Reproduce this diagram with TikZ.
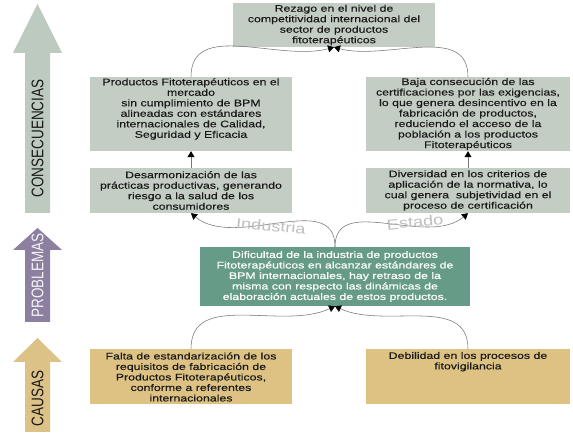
\documentclass[tikz,border=0pt]{standalone}
\usepackage{fontspec}
\usepackage{graphicx}
\usetikzlibrary{arrows.meta}
\setmainfont{Liberation Sans}
\newfontfamily\boxfont[FakeStretch=1.3,FakeBold=0.35]{Liberation Sans}
\newfontfamily\lblfont[FakeStretch=1.25]{Liberation Sans}
\definecolor{consbox}{HTML}{C4CDC4}
\definecolor{consarrow}{HTML}{BDCABF}
\definecolor{probbox}{HTML}{669B87}
\definecolor{probarrow}{HTML}{8C7F9F}
\definecolor{causebox}{HTML}{DDC283}
\definecolor{causearrow}{HTML}{DDC287}
\definecolor{textcol}{HTML}{1A1A1A}
\definecolor{linecol}{HTML}{777777}
\tikzset{
  box/.style={draw=none, inner sep=0pt},
  txt/.style={align=center, font=\boxfont\fontsize{9.5}{10.5}\selectfont, text=textcol, inner sep=0pt},
  conn/.style={draw=linecol, line width=0.55pt, -{Triangle[width=7pt,length=6pt,color=black]}},
  sidelbl/.style={rotate=90, inner sep=0pt, font=\fontsize{13.5}{14}\selectfont},
  branchlbl/.style={inner sep=0pt, text=gray!50, font=\lblfont\fontsize{14.5}{15}\selectfont}
}
\begin{document}
\begin{tikzpicture}[x=1pt,y=1pt]
\useasboundingbox (0,0) rectangle (573,433);
\fill[white] (0,0) rectangle (573,433);

% side arrows
\fill[consarrow] (25,220) -- (25,380) -- (13,380) -- (37.5,429) -- (62,380) -- (50,380) -- (50,220) -- cycle;
\fill[probarrow] (25,111) -- (25,183) -- (13,183) -- (37.5,205) -- (62,183) -- (50,183) -- (50,111) -- cycle;
\fill[causearrow] (25,1) -- (25,71) -- (13,71) -- (37.5,95) -- (62,71) -- (50,71) -- (50,1) -- cycle;
\node[sidelbl, text=textcol] (lcons) at (37.5,294.5) {\scalebox{1}[1.25]{CONSECUENCIAS}};
\node[sidelbl, text=white!92!probarrow] (lprob) at (37.5,157.5) {\scalebox{1}[1.25]{PROBLEMAS}};
\node[sidelbl, text=textcol] (lcaus) at (37.5,34.5) {\scalebox{1}[1.25]{CAUSAS}};

% boxes
\node[box, fill=consbox, minimum width=202pt, minimum height=44pt] (top) at (334,408) {};
\node[box, fill=consbox, minimum width=202pt, minimum height=74pt] (c1L) at (191,319) {};
\node[box, fill=consbox, minimum width=204pt, minimum height=74pt] (c1R) at (468,319) {};
\node[box, fill=consbox, minimum width=202pt, minimum height=45pt] (c2L) at (191,242.5) {};
\node[box, fill=consbox, minimum width=204pt, minimum height=45pt] (c2R) at (468,242.5) {};
\node[box, fill=probbox, minimum width=270pt, minimum height=59pt] (prob) at (335,156.5) {};
\node[box, fill=causebox, minimum width=202pt, minimum height=55pt] (causeL) at (191,56.5) {};
\node[box, fill=causebox, minimum width=204pt, minimum height=55pt] (causeR) at (468,56.5) {};

% texts
\node[txt] (ttop) at (top.center) {Rezago en el nivel de\\competitividad internacional del\\sector de productos\\fitoterapéuticos};
\node[txt] (tc1L) at ([yshift=5pt]c1L.center) {Productos Fitoterapéuticos en el\\mercado\\sin cumplimiento de BPM\\alineadas con estándares\\internacionales de Calidad,\\Seguridad y Eficacia};
\node[txt] (tc1R) at (c1R.center) {Baja consecución de las\\certificaciones por las exigencias,\\lo que genera desincentivo en la\\fabricación de productos,\\reduciendo el acceso de la\\población a los productos\\Fitoterapéuticos};
\node[txt] (tc2L) at (c2L.center) {Desarmonización de las\\prácticas productivas, generando\\riesgo a la salud de los\\consumidores};
\node[txt] (tc2R) at (c2R.center) {Diversidad en los criterios de\\aplicación de la normativa, lo\\cual genera\ \ subjetividad en el\\proceso de certificación};
\node[txt, text=white] (tprob) at (prob.center) {Dificultad de la industria de productos\\Fitoterapéuticos en alcanzar estándares de\\BPM internacionales, hay retraso de la\\misma con respecto las dinámicas de\\elaboración actuales de estos productos.};
\node[txt] (tcauseL) at ([yshift=-0.5pt]causeL.center) {Falta de estandarización de los\\requisitos de fabricación de\\Productos Fitoterapéuticos,\\conforme a referentes\\internacionales};
\node[txt, anchor=north] (tcauseR) at ([yshift=-3pt]causeR.north) {Debilidad en los procesos de\\fitovigilancia};

% connectors
\draw[conn] (c1L.north) to[out=90, in=-165] (top.south);
\draw[conn] (c1R.north) to[out=90, in=-15] (top.south);
\draw[conn] (c2L.north) -- (c1L.south);
\draw[conn] (c2R.north) -- (c1R.south);
\draw[conn] (prob.north) to[out=90, in=-40] (c2L.south);
\draw[conn] (prob.north) to[out=90, in=-140] (c2R.south);
\draw[conn] (causeL.north) to[out=90, in=-155] (prob.south);
\draw[conn] (causeR.north) to[out=90, in=-25] (prob.south);

% branch labels
\node[branchlbl, rotate=-5] (lind) at (271,207) {Industria};
\node[branchlbl, rotate=6] (lest) at (415,211) {Estado};
\end{tikzpicture}
\end{document}
